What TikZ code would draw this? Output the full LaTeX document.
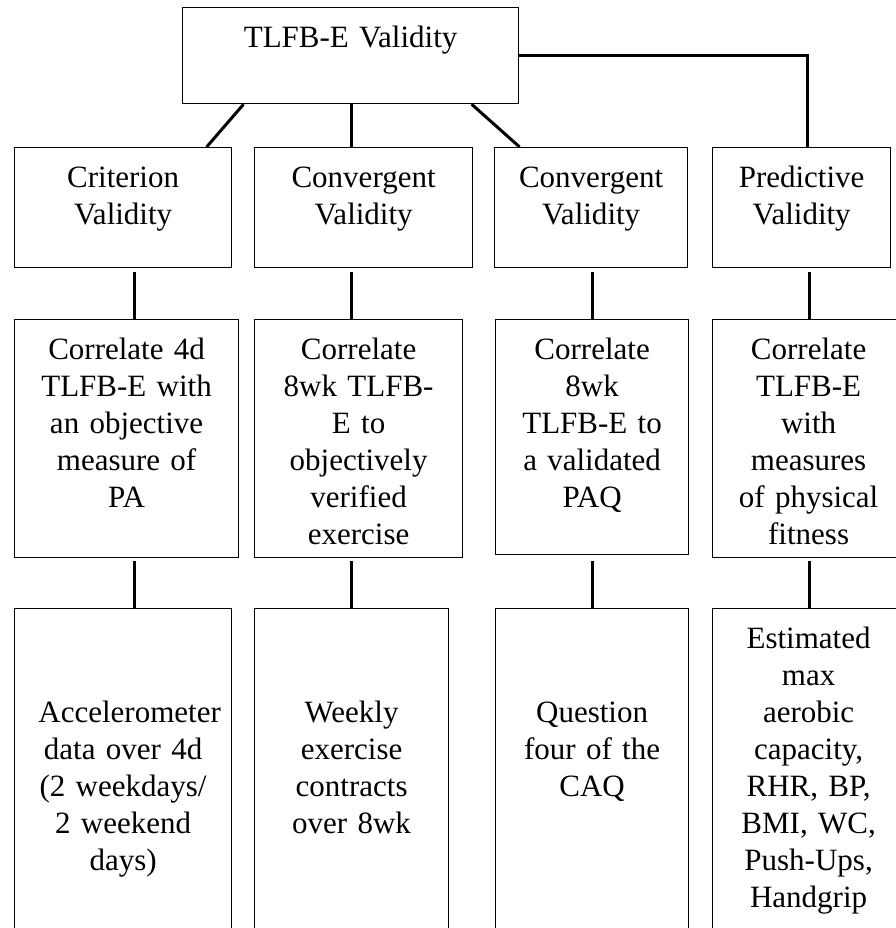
\documentclass[tikz,border=0pt]{standalone}
\usepackage{fontspec}
\setmainfont{Liberation Serif}
\usepackage{tikz}
\usetikzlibrary{positioning}

\begin{document}
\begin{tikzpicture}[x=1pt,y=-1pt,
    box/.style={draw,line width=1.2pt,anchor=north west,inner xsep=2pt,inner ysep=0pt,
                align=center,font=\fontsize{31}{37}\selectfont,text height=40pt},
    link/.style={line width=3pt}]

           \useasboundingbox (0,0) rectangle (895,928);

           % top
           \node [box,text width=332pt,text depth=56pt] (top) at (182,7){TLFB-E Validity};

           % validity types
           \node [box,text width=213pt,text depth=80pt] (crit) at (14,147){Criterion\\Validity};
           \node [box,text width=214pt,text depth=80pt] (conv1) at (254,147){Convergent\\Validity};
           \node [box,text width=189pt,text depth=80pt] (conv2) at (494,147){Convergent\\Validity};
           \node [box,text width=174pt,text depth=80pt] (pred) at (712,147){Predictive\\Validity};

           % what is correlated
           \node [box,text width=220pt,text depth=198pt] (corr1) at (14,319){Correlate 4d\\TLFB-E with\\an objective\\measure of\\PA};
           \node [box,text width=204pt,text depth=198pt] (corr2) at (254,319){Correlate\\8wk TLFB-\\E to\\objectively\\verified\\exercise};
           \node [box,text width=189pt,text depth=195pt] (corr3) at (495,319){Correlate\\8wk\\TLFB-E to\\a validated\\PAQ};
           \node [box,text width=188pt,text depth=198pt] (corr4) at (712,319){Correlate\\TLFB-E\\with\\measures\\of physical\\fitness};

           % measures
           \node [box,text width=213pt,text height=114pt,text depth=226pt] (acc) at (14,608){\hspace*{13pt}Accelerometer\\data over 4d\hspace*{17pt}\\(2 weekdays/\\2 weekend\\days)};
           \node [box,text width=190pt,text height=114pt,text depth=226pt] (weekly) at (254,608){Weekly\\exercise\\contracts\\over 8wk};
           \node [box,text width=189pt,text height=114pt,text depth=226pt] (caq) at (495,608){Question\\four of the\\CAQ};
           \node [box,text width=188pt,text depth=300pt] (fit) at (712,608){Estimated\\max\\aerobic\\capacity,\\RHR, BP,\\BMI, WC,\\Push-Ups,\\Handgrip};

           \draw [link] ([xshift=-107pt]top.south) -- ([xshift=83.5pt]crit.north);
           \draw [link] ([xshift=0.5pt]top.south) -- ([xshift=-12.5pt]conv1.north);
           \draw [link] ([xshift=121pt]top.south) -- ([xshift=-71.5pt]conv2.north);
           \draw [link] (top.east) -| ([xshift=6pt]pred.north);

           \draw [link] ([xshift=11.5pt,yshift=-4pt]crit.south) -- ([xshift=8pt]corr1.north);
           \draw [link] ([xshift=-12.5pt,yshift=-4pt]conv1.south) -- ([xshift=-7.5pt]corr2.north);
           \draw [link] ([xshift=1pt,yshift=-4pt]conv2.south) -- (corr3.north);
           \draw [link] ([xshift=7.5pt,yshift=-4pt]pred.south) -- ([xshift=0.5pt]corr4.north);

           \draw [link] ([xshift=8pt,yshift=-3pt]corr1.south) -- ([xshift=11.5pt]acc.north);
           \draw [link] ([xshift=-7.5pt,yshift=-3pt]corr2.south) -- ([xshift=-0.5pt]weekly.north);
           \draw [link] ([yshift=-6pt]corr3.south) -- (caq.north);
           \draw [link] ([xshift=0.5pt,yshift=-3pt]corr4.south) -- ([xshift=0.5pt]fit.north);

        \end{tikzpicture}
\end{document}
